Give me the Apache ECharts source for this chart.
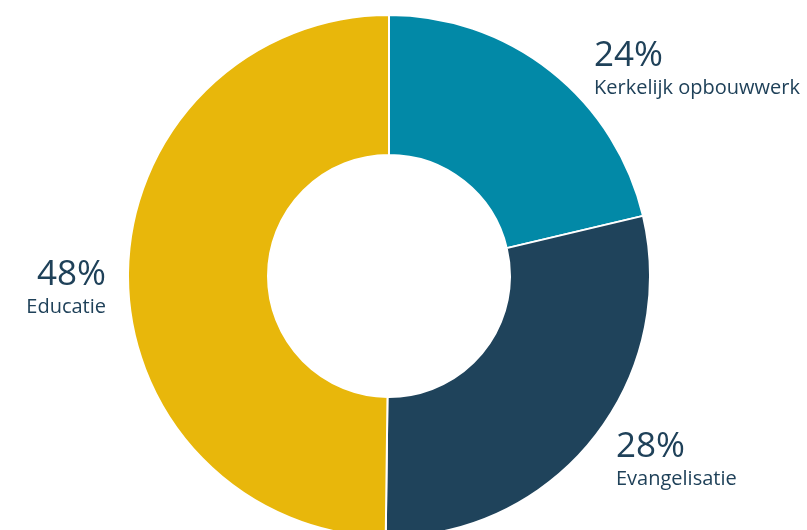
<!DOCTYPE html>
<html>
<head>
<meta charset="utf-8">
<script src="https://cdn.jsdelivr.net/npm/echarts@6/dist/echarts.min.js"></script>
<style>html,body{margin:0;padding:0;background:#fff;}#c{width:807px;height:530px;}</style>
</head>
<body>
<div id="c"></div>
<script>
// Data
var categories = ['Kerkelijk opbouwwerk', 'Evangelisatie', 'Educatie'];
var values = [21.3, 28.9, 49.8];          // drawn slice sizes
var percentLabels = ['24%', '28%', '48%']; // printed labels
var colors = ['#0289a7', '#1f435b', '#e8b70b'];

var labelPos = [
  {x: 594, y: 36, align: 'left'},
  {x: 616, y: 427, align: 'left'},
  {x: 106, y: 255, align: 'right'}
];

var chart = echarts.init(document.getElementById('c'), null, {renderer: 'canvas'});
chart.setOption({
  animation: false,
  series: [{
    type: 'pie',
    center: [389, 276],
    radius: [121, 261],
    startAngle: 90,
    clockwise: true,
    avoidLabelOverlap: false,
    itemStyle: {borderColor: '#fff', borderWidth: 2},
    label: {
      show: true,
      position: 'outside',
      color: '#1f4159',
      fontFamily: 'Open Sans',
      formatter: function (p) {
        return '{p|' + percentLabels[p.dataIndex] + '}\n{n|' + p.name + '}';
      },
      rich: {
        p: {fontSize: 35, lineHeight: 40, color: '#1f4159', fontFamily: 'Open Sans'},
        n: {fontSize: 20, lineHeight: 25, color: '#1f4159', fontFamily: 'Open Sans'}
      }
    },
    labelLine: {show: false},
    labelLayout: function (params) {
      var lp = labelPos[params.dataIndex];
      return {x: lp.x, y: lp.y, align: lp.align, verticalAlign: 'top'};
    },
    data: categories.map(function (c, i) {
      return {name: c, value: values[i], itemStyle: {color: colors[i]},
              label: {align: labelPos[i].align}};
    })
  }]
});
</script>
</body>
</html>
